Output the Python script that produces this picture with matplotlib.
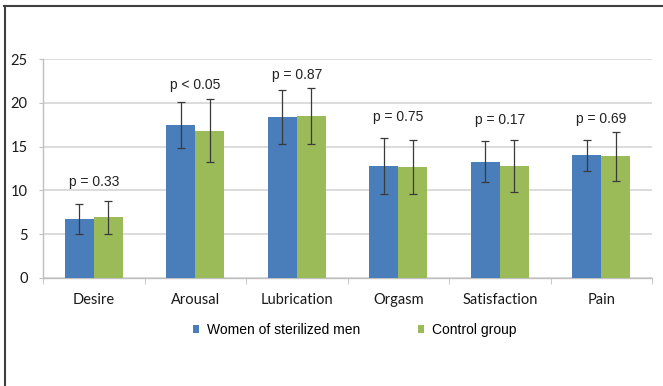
import numpy as np
import matplotlib.pyplot as plt
from matplotlib.lines import Line2D

# Scores per domain
categories = ["Desire", "Arousal", "Lubrication", "Orgasm", "Satisfaction", "Pain"]
sterilized = [6.7, 17.5, 18.4, 12.8, 13.3, 14.0]
sterilized_err = [1.75, 2.6, 3.1, 3.2, 2.35, 1.8]
control = [6.9, 16.8, 18.5, 12.7, 12.8, 13.9]
control_err = [1.9, 3.6, 3.2, 3.1, 3.0, 2.8]
p_labels = ["p = 0.33", "p < 0.05", "p = 0.87", "p = 0.75", "p = 0.17", "p = 0.69"]
p_label_y = [11.0, 22.0, 23.2, 18.4, 18.0, 18.2]

blue = "#4a7ebb"
green = "#9bbb59"

fig = plt.figure(figsize=(6.63, 3.86), dpi=100)
ax = fig.add_axes([0.065, 0.2806, 0.9184, 0.5658])

x = np.arange(len(categories))
w = 0.285
err_kw = dict(ecolor="#3a3a3a", elinewidth=0.9, capsize=3, capthick=0.9)
ax.bar(x - w / 2, sterilized, w, yerr=sterilized_err, color=blue,
       label="Women of sterilized men", error_kw=err_kw, zorder=3)
ax.bar(x + w / 2, control, w, yerr=control_err, color=green,
       label="Control group", error_kw=err_kw, zorder=3)

for xi, lab, yy in zip(x, p_labels, p_label_y):
    ax.text(xi, yy, lab, ha="center", va="center", fontsize=10,
            family="Liberation Sans", color="#222222")

ax.set_xlim(-0.5, len(categories) - 0.5)
ax.set_ylim(0, 25)
ax.set_yticks(np.arange(0, 26, 5))
ax.set_xticks(x)
ax.set_xticklabels(categories, fontsize=10.5, family="Lato", color="#1a1a1a")
ax.set_xticks(np.arange(-0.5, len(categories), 1), minor=True)
ax.tick_params(axis="x", which="major", length=0, pad=11)
ax.tick_params(axis="x", which="minor", length=4, color="#bfbfbf")
ax.tick_params(axis="y", length=3, color="#bfbfbf", pad=8, labelsize=10.5)
for t in ax.get_yticklabels():
    t.set_family("Lato")
    t.set_color("#1a1a1a")

ax.grid(axis="y", color="#d9d9d9", linewidth=1.3, zorder=0)
for s in ["top", "right"]:
    ax.spines[s].set_visible(False)
for s in ["left", "bottom"]:
    ax.spines[s].set_color("#bfbfbf")
    ax.spines[s].set_linewidth(1.0)

fig.legend(loc="center", bbox_to_anchor=(0.535, 1 - 330 / 386), ncol=2,
           frameon=False, prop={"family": "Liberation Sans", "size": 10},
           handlelength=0.45, handleheight=0.45, handletextpad=0.55,
           columnspacing=4.2)

# outer frame (top and left edge)
fig.add_artist(Line2D([4 / 663, 1], [1 - 6 / 386, 1 - 6 / 386],
                      transform=fig.transFigure, color="#404040", linewidth=1.5))
fig.add_artist(Line2D([5 / 663, 5 / 663], [0, 1 - 6 / 386],
                      transform=fig.transFigure, color="#404040", linewidth=1.5))

fig.savefig("out.png", dpi=100)
